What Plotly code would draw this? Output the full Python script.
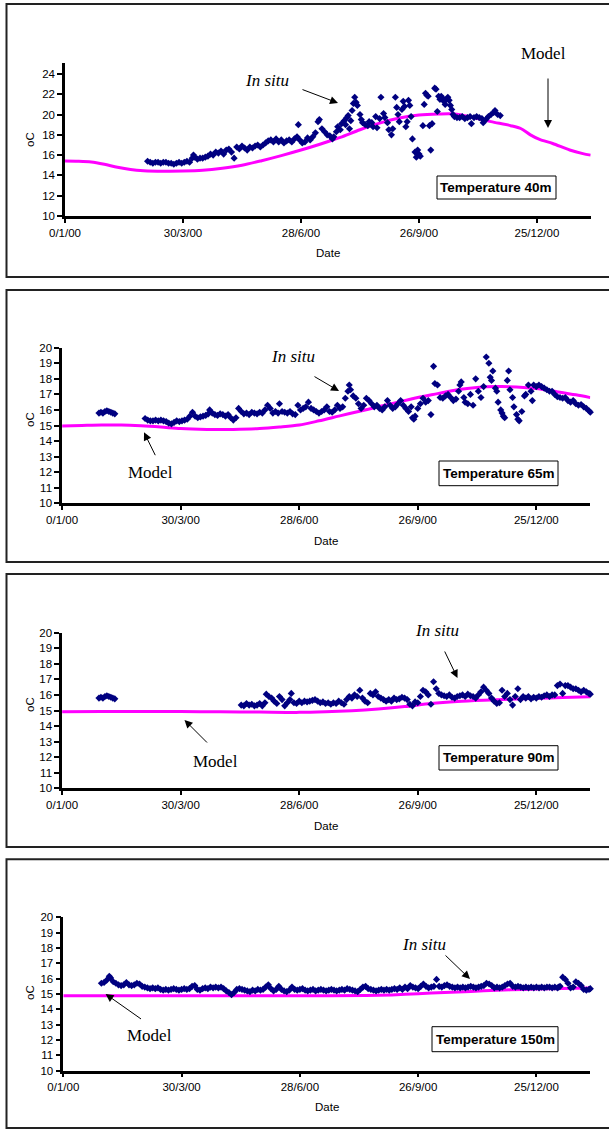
import plotly.graph_objects as go

W, H = 609, 1130

# ---------------- data ----------------
TICK_DAYS = [0, 90, 180, 270, 360]
TICK_LABELS = ["0/1/00", "30/3/00", "28/6/00", "26/9/00", "25/12/00"]
PANEL_TITLES = ["Temperature 40m", "Temperature 65m", "Temperature 90m", "Temperature 150m"]

# --- 40 m ---
model40_day = [0, 10, 20, 30, 40, 50, 60, 75, 90, 105, 120, 135, 150, 165, 180, 195, 210, 225,
               240, 255, 270, 285, 297, 310, 325, 340, 348, 355, 362, 372, 385, 395, 401]
model40_t = [15.42, 15.4, 15.33, 15.1, 14.8, 14.58, 14.47, 14.42, 14.43, 14.5, 14.7, 15.0, 15.45,
             15.95, 16.5, 17.1, 17.75, 18.5, 19.15, 19.65, 19.95, 20.05, 20.05, 19.75, 19.3, 18.9,
             18.6, 18.0, 17.55, 17.15, 16.5, 16.15, 16.0]
insitu40_day = [63, 65, 67, 69, 71, 73, 75, 77, 79, 81, 83, 85, 87, 89, 91, 93, 95, 97, 98, 99, 101,
                103, 105, 107, 109, 111, 113, 115, 117, 119, 121, 123, 125, 127, 129, 131, 133, 135,
                137, 139, 141, 143, 145, 147, 149, 151, 153, 155, 157, 159, 161, 163, 165, 167, 169,
                171, 173, 175, 177, 178, 179, 181, 183, 185, 187, 189, 191, 193, 194, 196, 198, 200,
                202, 204, 205, 207, 208, 210, 211, 213, 214, 215, 216, 217, 218, 219, 220, 221, 222,
                223, 225, 226, 227, 229, 231, 232, 234, 235, 237, 238, 240, 241, 243, 244, 246, 247,
                249, 250, 252, 253, 254, 255, 257, 258, 259, 260, 261, 262, 263, 264, 265, 267, 268,
                269, 270, 271, 273, 274, 275, 276, 277, 278, 279, 280, 282, 283, 284, 285, 286, 287,
                288, 289, 290, 291, 292, 293, 294, 295, 296, 297, 299, 301, 303, 305, 307, 309, 310,
                312, 314, 316, 318, 319, 321, 323, 325, 327, 328, 330, 332]
insitu40_t = [15.4, 15.3, 15.2, 15.3, 15.3, 15.2, 15.3, 15.3, 15.2, 15.2, 15.1, 15.2, 15.3, 15.2,
              15.3, 15.4, 15.3, 15.7, 16.0, 15.8, 15.6, 15.7, 15.7, 15.8, 15.9, 16.1, 16.0, 16.3,
              16.2, 16.4, 16.1, 16.5, 16.6, 16.3, 15.7, 16.8, 16.6, 16.9, 16.7, 16.5, 16.8, 16.7,
              16.9, 17.0, 16.8, 17.0, 17.2, 17.4, 17.5, 17.3, 17.6, 17.3, 17.5, 17.2, 17.4, 17.5,
              17.3, 17.6, 17.8, 19.0, 17.5, 17.2, 17.3, 17.7, 17.5, 17.8, 18.2, 19.3, 19.5, 18.6,
              18.3, 18.0, 17.9, 17.6, 17.8, 18.3, 18.8, 18.5, 19.1, 19.4, 19.0, 19.7, 19.9, 18.6,
              19.4, 20.4, 21.1, 21.7, 21.2, 20.9, 20.0, 19.5, 19.2, 19.0, 18.9, 19.3, 19.2, 18.8,
              19.8, 18.7, 19.6, 21.7, 20.1, 19.7, 19.2, 18.5, 18.0, 18.6, 21.7, 20.7, 20.0, 19.3,
              20.5, 21.3, 20.8, 18.8, 19.3, 21.4, 20.9, 19.8, 17.6, 16.3, 15.8, 16.5, 16.1, 15.9,
              18.9, 21.0, 22.1, 21.9, 21.8, 18.9, 16.5, 19.1, 22.6, 22.5, 20.3, 21.8, 21.5, 21.8,
              21.6, 21.3, 21.0, 21.5, 21.7, 21.4, 20.9, 20.5, 20.0, 19.8, 19.7, 19.7, 19.8, 19.6,
              19.7, 19.8, 19.1, 19.7, 19.8, 19.7, 19.6, 19.2, 19.5, 19.8, 20.0, 20.2, 20.4, 20.0,
              19.9]

# --- 65 m ---
model65_day = [0, 15, 30, 45, 60, 75, 90, 110, 130, 150, 165, 180, 195, 210, 225, 240, 255, 270,
               285, 300, 315, 330, 345, 360, 375, 390, 401]
model65_t = [14.97, 15.0, 15.03, 15.03, 14.98, 14.9, 14.8, 14.75, 14.75, 14.8, 14.9, 15.03, 15.3,
             15.6, 15.9, 16.2, 16.5, 16.8, 17.05, 17.3, 17.45, 17.5, 17.48, 17.38, 17.18, 16.97,
             16.79]
insitu65_day = [28, 29.5, 31, 32.5, 34, 35.5, 37, 38.5, 40,
                63, 65, 67, 69, 71, 73, 75, 77, 79, 81, 83, 85, 87, 89, 91, 93, 95, 97, 99, 101,
                103, 105, 107, 109, 111, 112, 114, 116, 118, 120, 122, 124, 126, 128, 130, 132, 134,
                136, 138, 140, 142, 144, 146, 148, 150, 152, 154, 156, 158, 160, 162, 164, 165, 167,
                169, 171, 173, 175, 177, 179, 181, 183, 185, 187, 189, 191, 193, 195, 197, 199, 201,
                203, 205, 207, 209, 211, 213, 215, 217, 218, 219, 221, 223, 225, 227, 229, 231, 233,
                235, 237, 239, 241, 243, 245, 247, 249, 251, 253, 255, 257, 259, 261, 263, 265, 266,
                267, 268, 270, 272, 274, 276, 278, 280, 282, 283, 285, 287, 289, 291, 293, 295, 297,
                299, 301, 302, 303, 305, 306, 308, 310, 312, 314, 316, 318, 320, 322, 324, 325, 326,
                327, 329, 330, 331, 333, 334, 335, 336, 338, 339, 340, 342, 343, 345, 346, 347, 349,
                351, 352, 354, 356, 357, 358, 360, 362, 364, 366, 368, 370, 372, 374, 376, 378, 380,
                382, 384, 386, 388, 390, 392, 394, 396, 398, 400, 401]
insitu65_t = [15.8, 15.85, 15.8, 15.9, 15.95, 15.9, 15.85, 15.8, 15.75,
              15.45, 15.35, 15.3, 15.3, 15.35, 15.3, 15.35, 15.3, 15.25, 15.15, 15.1, 15.2, 15.3,
              15.25, 15.3, 15.35, 15.4, 15.6, 15.85, 15.6, 15.5, 15.55, 15.6, 15.65, 15.75, 16.0,
              15.8, 15.7, 15.65, 15.75, 15.7, 15.6, 15.7, 15.5, 15.35, 15.5, 16.1, 15.9, 15.75,
              15.8, 15.7, 15.85, 15.8, 15.75, 15.85, 15.8, 16.0, 16.3, 16.1, 15.8, 15.9, 15.8, 16.4,
              15.9, 15.85, 15.8, 15.9, 15.75, 15.7, 16.3, 16.0, 16.1, 16.2, 16.5, 16.1, 16.0, 15.9,
              15.8, 15.9, 16.0, 16.2, 15.9, 15.85, 16.0, 16.3, 16.1, 16.2, 16.75, 17.2, 17.6, 17.3,
              16.9, 16.75, 16.4, 16.1, 16.3, 16.75, 16.6, 16.4, 16.2, 16.3, 16.1, 16.0, 16.2, 16.6,
              16.3, 16.1, 16.2, 16.4, 16.6, 16.3, 16.1, 15.9, 16.2, 15.5, 15.4, 15.6, 16.1, 16.4,
              16.75, 16.5, 16.6, 15.7, 18.8, 17.7, 17.6, 16.8, 16.75, 16.9, 17.0, 16.8, 16.6, 16.7,
              17.2, 17.6, 17.8, 16.8, 16.5, 16.4, 17.0, 16.3, 18.0, 17.2, 16.8, 17.5, 19.4, 19.0,
              18.1, 17.9, 18.5, 17.4, 17.2, 16.5, 16.0, 15.8, 15.6, 15.5, 17.9, 18.5, 17.3, 16.8,
              16.2, 15.7, 15.4, 15.3, 15.9, 16.9, 17.0, 17.6, 17.2, 16.6, 17.6, 17.5, 17.6, 17.5,
              17.4, 17.3, 17.2, 17.2, 17.0, 16.85, 16.8, 16.75, 16.8, 16.6, 16.5, 16.6, 16.4, 16.3,
              16.35, 16.2, 16.1, 15.95, 15.85]

# --- 90 m ---
model90_day = [0, 30, 60, 90, 120, 150, 180, 200, 220, 240, 260, 280, 300, 320, 340, 360, 380, 401]
model90_t = [14.92, 14.93, 14.93, 14.93, 14.92, 14.9, 14.88, 14.92, 14.99, 15.1, 15.25, 15.45,
             15.58, 15.66, 15.72, 15.78, 15.83, 15.89]
insitu90_day = [28, 29.5, 31, 32.5, 34, 35.5, 37, 38.5, 40,
                136, 138, 140, 142, 144, 146, 148, 150, 152, 154, 155, 157, 159, 161, 163, 165, 167,
                169, 171, 173, 174, 176, 178, 180, 182, 184, 186, 188, 190, 192, 194, 196, 198, 200,
                202, 204, 206, 208, 210, 212, 214, 216, 218, 220, 222, 224, 226, 228, 230, 232, 234,
                236, 238, 240, 242, 244, 246, 248, 250, 252, 254, 256, 258, 260, 262, 264, 266, 268,
                270, 272, 274, 276, 278, 280, 282, 284, 286, 288, 290, 292, 294, 296, 298, 300, 302,
                304, 306, 308, 310, 312, 314, 316, 318, 320, 322, 324, 326, 328, 330, 332, 334, 336,
                338, 340, 342, 344, 346, 348, 350, 352, 354, 356, 358, 360, 362, 364, 366, 368, 370,
                372, 374, 376, 378, 380, 382, 384, 386, 388, 390, 392, 394, 396, 398, 400, 401]
insitu90_t = [15.8, 15.85, 15.8, 15.9, 15.95, 15.9, 15.85, 15.8, 15.75,
              15.35, 15.3, 15.45, 15.35, 15.4, 15.3, 15.35, 15.45, 15.3, 15.5, 16.05, 15.9, 15.8,
              15.6, 15.45, 15.9, 15.7, 15.3, 15.5, 15.7, 16.1, 15.5, 15.45, 15.6, 15.5, 15.6, 15.55,
              15.6, 15.65, 15.7, 15.6, 15.5, 15.55, 15.45, 15.5, 15.4, 15.5, 15.45, 15.6, 15.5,
              15.4, 15.7, 15.9, 15.8, 16.0, 15.9, 16.3, 15.8, 15.6, 15.5, 16.1, 16.0, 16.2, 15.9,
              15.8, 15.7, 15.6, 15.7, 15.6, 15.8, 15.7, 15.75, 15.85, 15.8, 15.7, 15.4, 15.3, 15.55,
              15.5, 15.9, 16.3, 16.2, 16.0, 15.4, 16.85, 16.4, 16.1, 16.0, 15.95, 15.9, 16.0, 15.85,
              15.8, 15.9, 15.95, 16.0, 15.9, 16.05, 15.95, 15.9, 15.8, 16.0, 16.2, 16.5, 16.3, 16.1,
              15.8, 15.6, 15.45, 15.5, 16.3, 15.9, 16.1, 15.7, 15.35, 15.9, 16.4, 15.7, 15.9, 15.8,
              15.9, 15.75, 15.85, 15.8, 15.9, 15.85, 15.95, 16.0, 15.9, 16.0, 16.0, 16.6, 16.7,
              16.1, 16.6, 16.6, 16.5, 16.4, 16.4, 16.3, 16.2, 16.3, 16.2, 16.1, 16.05]

# --- 150 m ---
model150_day = [0, 60, 120, 180, 230, 250, 270, 290, 310, 330, 350, 370, 390, 401]
model150_t = [14.89, 14.89, 14.89, 14.89, 14.9, 14.94, 15.02, 15.1, 15.17, 15.24, 15.3, 15.34,
              15.37, 15.39]
insitu150_day = [29, 31, 33, 35, 36, 38, 40, 42, 44, 46, 48, 50, 52, 54, 56, 58, 60, 62, 64, 66, 68,
                 70, 72, 74, 76, 78, 80, 82, 84, 86, 88, 90, 92, 94, 96, 98, 100, 102, 104, 106, 108,
                 110, 112, 114, 116, 118, 120, 122, 124, 126, 128, 130, 132, 134, 136, 138, 140,
                 142, 144, 146, 148, 150, 152, 154, 156, 158, 160, 162, 164, 166, 168, 170, 172,
                 174, 176, 178, 180, 182, 184, 186, 188, 190, 192, 194, 196, 198, 200, 202, 204,
                 206, 208, 210, 212, 214, 216, 218, 220, 222, 224, 226, 228, 230, 232, 234, 236,
                 238, 240, 242, 244, 246, 248, 250, 252, 254, 256, 258, 260, 262, 264, 266, 268,
                 270, 272, 274, 276, 278, 280, 282, 284, 286, 288, 290, 292, 294, 296, 298, 300,
                 302, 304, 306, 308, 310, 312, 314, 316, 318, 320, 322, 324, 326, 328, 330, 332,
                 334, 336, 338, 340, 342, 344, 346, 348, 350, 352, 354, 356, 358, 360, 362, 364,
                 366, 368, 370, 372, 374, 376, 377, 378, 380, 382, 384, 386, 388, 390, 392, 394,
                 396, 398, 400, 401]
insitu150_t = [15.7, 15.75, 15.9, 16.15, 16.05, 15.8, 15.7, 15.6, 15.55, 15.6, 15.75, 15.6, 15.55,
               15.6, 15.7, 15.65, 15.5, 15.45, 15.4, 15.35, 15.4, 15.35, 15.4, 15.3, 15.25, 15.3,
               15.25, 15.3, 15.35, 15.3, 15.25, 15.3, 15.35, 15.3, 15.35, 15.5, 15.55, 15.3, 15.25,
               15.35, 15.4, 15.35, 15.45, 15.4, 15.45, 15.4, 15.45, 15.35, 15.2, 15.1, 14.95, 15.1,
               15.3, 15.35, 15.3, 15.25, 15.2, 15.15, 15.25, 15.2, 15.3, 15.25, 15.3, 15.45, 15.6,
               15.35, 15.2, 15.3, 15.5, 15.3, 15.2, 15.15, 15.25, 15.45, 15.3, 15.25, 15.3, 15.35,
               15.25, 15.2, 15.25, 15.3, 15.2, 15.25, 15.3, 15.25, 15.2, 15.25, 15.3, 15.25, 15.2,
               15.25, 15.3, 15.25, 15.35, 15.3, 15.25, 15.2, 15.15, 15.3, 15.45, 15.5, 15.35, 15.3,
               15.25, 15.2, 15.25, 15.3, 15.25, 15.3, 15.25, 15.3, 15.35, 15.3, 15.4, 15.3, 15.45,
               15.35, 15.55, 15.45, 15.4, 15.35, 15.5, 15.65, 15.5, 15.4, 15.45, 15.5, 15.95, 15.5,
               15.45, 15.55, 15.6, 15.5, 15.45, 15.4, 15.45, 15.4, 15.45, 15.4, 15.45, 15.5, 15.45,
               15.4, 15.45, 15.5, 15.55, 15.7, 15.65, 15.55, 15.4, 15.45, 15.4, 15.45, 15.55, 15.65,
               15.7, 15.5, 15.45, 15.5, 15.45, 15.4, 15.45, 15.4, 15.45, 15.4, 15.45, 15.4, 15.45,
               15.4, 15.45, 15.45, 15.4, 15.45, 15.4, 15.45, 15.5, 16.1, 15.95, 15.7, 15.4, 15.45,
               15.8, 15.7, 15.55, 15.3, 15.25, 15.3, 15.35, 15.4, 15.35]

# ---------------- layout (pixel geometry) ----------------
def px(x):
    return x / W


def py(y):
    return 1 - y / H


panels = [
    dict(model=(model40_day, model40_t), insitu=(insitu40_day, insitu40_t),
         xpx=(65, 590.7), ypx=(216, 63), yrange=(10, 25.08), yticks=[10, 12, 14, 16, 18, 20, 22, 24],
         border=(4, 277), oc=140, date=253,
         insitu_lbl=(267, 80), insitu_arrow=((301, 89), (338, 103)),
         model_lbl=(543, 53), model_arrow=((548, 77), (548, 128)),
         box=(437, 556, 176, 199)),
    dict(model=(model65_day, model65_t), insitu=(insitu65_day, insitu65_t),
         xpx=(62.1, 590.3), ypx=(503.3, 347.7), yrange=(10, 20), yticks=list(range(10, 21)),
         border=(290, 562), oc=420, date=540.7,
         insitu_lbl=(293, 356), insitu_arrow=((313, 375.7), (339, 391)),
         model_lbl=(150, 472.7), model_arrow=((156, 456.7), (144, 432.3)),
         box=(439, 558, 461, 485.7)),
    dict(model=(model90_day, model90_t), insitu=(insitu90_day, insitu90_t),
         xpx=(62.1, 590.3), ypx=(788.3, 632.7), yrange=(10, 20), yticks=list(range(10, 21)),
         border=(574, 847), oc=705, date=825.7,
         insitu_lbl=(437, 630.7), insitu_arrow=((444, 650), (457.5, 678)),
         model_lbl=(215.5, 761), model_arrow=((208.5, 744), (184.5, 720)),
         box=(439, 558, 745.7, 770)),
    dict(model=(model150_day, model150_t), insitu=(insitu150_day, insitu150_t),
         xpx=(63.3, 590.3), ypx=(1070.7, 917.3), yrange=(10, 20), yticks=list(range(10, 21)),
         border=(859.3, 1128), oc=993, date=1106.7,
         insitu_lbl=(424, 944), insitu_arrow=((444, 954), (470, 979)),
         model_lbl=(149.5, 1035), model_arrow=((142.5, 1020), (105.6, 994)),
         box=(432, 558, 1026.7, 1051.7)),
]

fig = go.Figure()
shapes = []
annotations = []
layout = {}

AX_FONT = dict(family="Arial, Liberation Sans, sans-serif", size=11.5, color="black")
SERIF = "Times New Roman, Liberation Serif, serif"

for i, p in enumerate(panels):
    n = i + 1
    xa = "x" if n == 1 else f"x{n}"
    ya = "y" if n == 1 else f"y{n}"
    fig.add_trace(go.Scatter(x=p["model"][0], y=p["model"][1], mode="lines",
                             line=dict(color="#FF00FF", width=3, shape="spline", smoothing=0.8),
                             xaxis=xa, yaxis=ya, showlegend=False, hoverinfo="skip"))
    fig.add_trace(go.Scatter(x=p["insitu"][0], y=p["insitu"][1], mode="markers",
                             marker=dict(symbol="diamond", size=5.5, color="#000080",
                                         line=dict(width=0)),
                             xaxis=xa, yaxis=ya, showlegend=False, cliponaxis=False))
    layout[f"xaxis{'' if n == 1 else n}"] = dict(
        domain=[px(p["xpx"][0]), px(p["xpx"][1])], range=[0, 401], anchor=ya, automargin=False,
        tickvals=TICK_DAYS, ticktext=TICK_LABELS, showline=True, linecolor="black", linewidth=2.5,
        ticks="outside", ticklen=4, tickwidth=2, tickcolor="black", showgrid=False,
        zeroline=False, tickfont=AX_FONT, fixedrange=True)
    layout[f"yaxis{'' if n == 1 else n}"] = dict(
        domain=[py(p["ypx"][0]), py(p["ypx"][1])], range=list(p["yrange"]), anchor=xa,
        automargin=False, tickvals=p["yticks"], showline=True, linecolor="black", linewidth=2.5,
        ticks="outside", ticklen=5, tickwidth=2, tickcolor="black", showgrid=False,
        zeroline=False, tickfont=AX_FONT, fixedrange=True)

    # panel border (right edge falls outside the picture, as in the reference)
    shapes.append(dict(type="rect", xref="paper", yref="paper", x0=px(6.5), x1=px(614),
                       y0=py(p["border"][1]), y1=py(p["border"][0]),
                       line=dict(color="#222222", width=2)))
    # title box
    bx0, bx1, by0, by1 = p["box"]
    shapes.append(dict(type="rect", xref="paper", yref="paper", x0=px(bx0), x1=px(bx1),
                       y0=py(by1), y1=py(by0), line=dict(color="black", width=1),
                       fillcolor="white"))
    annotations.append(dict(x=px((bx0 + bx1) / 2), y=py((by0 + by1) / 2), xref="paper",
                            yref="paper", text=f"<b>{PANEL_TITLES[i]}</b>", showarrow=False,
                            font=dict(family="Arial, Liberation Sans, sans-serif", size=13.5,
                                      color="black"), xanchor="center", yanchor="middle"))
    # axis titles
    annotations.append(dict(x=px(30), y=py(p["oc"]), xref="paper", yref="paper", text="oC",
                            textangle=-90, showarrow=False, font=AX_FONT,
                            xanchor="center", yanchor="middle"))
    annotations.append(dict(x=px((p["xpx"][0] + p["xpx"][1]) / 2), y=py(p["date"]),
                            xref="paper", yref="paper", text="Date", showarrow=False,
                            font=AX_FONT, xanchor="center", yanchor="middle"))
    # In situ label + arrow
    annotations.append(dict(x=px(p["insitu_lbl"][0]), y=py(p["insitu_lbl"][1]), xref="paper",
                            yref="paper", text="<i>In situ</i>", showarrow=False,
                            font=dict(family=SERIF, size=17, color="black"),
                            xanchor="center", yanchor="middle"))
    (tx, ty), (hx, hy) = p["insitu_arrow"]
    annotations.append(dict(x=px(hx), y=py(hy), xref="paper", yref="paper", text="",
                            showarrow=True, ax=tx - hx, ay=ty - hy, arrowhead=2, arrowsize=1.6,
                            arrowwidth=1, arrowcolor="black", standoff=0))
    # Model label + arrow
    annotations.append(dict(x=px(p["model_lbl"][0]), y=py(p["model_lbl"][1]), xref="paper",
                            yref="paper", text="Model", showarrow=False,
                            font=dict(family=SERIF, size=17, color="black"),
                            xanchor="center", yanchor="middle"))
    (tx, ty), (hx, hy) = p["model_arrow"]
    annotations.append(dict(x=px(hx), y=py(hy), xref="paper", yref="paper", text="",
                            showarrow=True, ax=tx - hx, ay=ty - hy, arrowhead=2, arrowsize=1.6,
                            arrowwidth=1, arrowcolor="black", standoff=0))

fig.update_layout(width=W, height=H, margin=dict(l=0, r=0, t=0, b=0, pad=0, autoexpand=False),
                  paper_bgcolor="white", plot_bgcolor="white", hovermode=False,
                  shapes=shapes, annotations=annotations, **layout)

fig.write_html("out.html", config={"displayModeBar": False},
               post_script="document.body.style.margin='0';document.body.style.overflow='hidden';")
